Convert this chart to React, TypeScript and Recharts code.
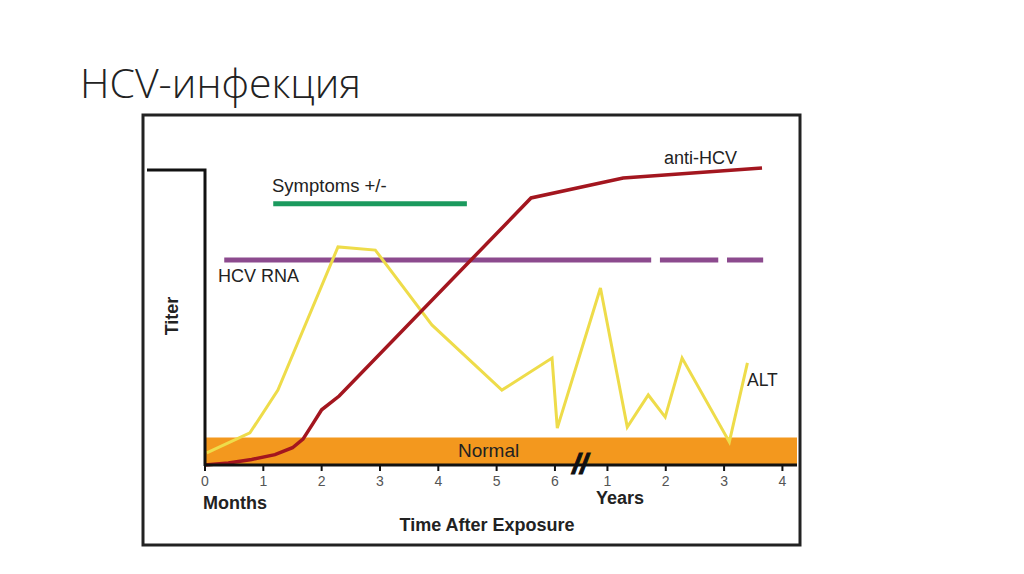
import React from 'react'
import { LineChart, Line, XAxis, YAxis, ReferenceArea } from 'recharts'

// x is in "axis units": 0..6 months, then years 1..4 after the break
const xTicks = [0, 1, 2, 3, 4, 5, 6, 6.9, 7.9, 8.9, 9.9]
const xTickLabels = ['0', '1', '2', '3', '4', '5', '6', '1', '2', '3', '4']

const antiHcv = [
  { x: 0, v: 0 },
  { x: 0.4, v: 0.6 },
  { x: 0.8, v: 1.6 },
  { x: 1.2, v: 3 },
  { x: 1.5, v: 5 },
  { x: 1.68, v: 7.5 },
  { x: 1.85, v: 12 },
  { x: 2.0, v: 16 },
  { x: 2.3, v: 20 },
  { x: 5.59, v: 77.4 },
  { x: 7.17, v: 83.2 },
  { x: 9.55, v: 86.1 },
]

const alt = [
  { x: 0.03, v: 3.5 },
  { x: 0.77, v: 9.3 },
  { x: 1.25, v: 21.7 },
  { x: 2.28, v: 63.2 },
  { x: 2.92, v: 62.3 },
  { x: 3.89, v: 40.6 },
  { x: 5.09, v: 21.7 },
  { x: 5.95, v: 31.0 },
  { x: 6.04, v: 10.7 },
  { x: 6.78, v: 51.3 },
  { x: 7.24, v: 11.0 },
  { x: 7.6, v: 20.3 },
  { x: 7.89, v: 13.9 },
  { x: 8.18, v: 31.0 },
  { x: 8.99, v: 6.7 },
  { x: 9.3, v: 29.6 },
]

// null entries break the line into dashes
const hcvRna = [
  { x: 0.33, v: 59.4 },
  { x: 7.65, v: 59.4 },
  { x: 7.72, v: null },
  { x: 7.8, v: 59.4 },
  { x: 8.8, v: 59.4 },
  { x: 8.87, v: null },
  { x: 8.95, v: 59.4 },
  { x: 9.57, v: 59.4 },
]

const symptoms = [
  { x: 1.17, v: 75.7 },
  { x: 4.49, v: 75.7 },
]

const normalRange = [0, 8]

const sans = '"Liberation Sans", Arial, sans-serif'

export default function App() {
  return (
    <div style={{ position: 'absolute', left: 0, top: 0, width: 1024, height: 574, background: '#fff', overflow: 'hidden' }}>
      <LineChart
        width={1024}
        height={574}
        margin={{ top: 120, right: 227, left: 205, bottom: 79 }}
        style={{ position: 'absolute', left: 0, top: 0 }}
      >
        <XAxis
          type="number"
          dataKey="x"
          domain={[0, 10.15]}
          ticks={xTicks}
          tickFormatter={(t: number) => xTickLabels[xTicks.indexOf(t)] ?? ''}
          interval={0}
          height={30}
          axisLine={{ stroke: '#111', strokeWidth: 3 }}
          tickLine={{ stroke: '#111', strokeWidth: 2 }}
          tickSize={6}
          tickMargin={5}
          tick={{ fontSize: 14, fill: '#555', fontFamily: sans }}
          allowDuplicatedCategory={false}
        />
        <YAxis type="number" domain={[0, 100]} hide />
        <ReferenceArea x1={0} x2={10.15} y1={normalRange[0]} y2={normalRange[1]} fill="#F3981E" fillOpacity={1} stroke="none" />
        <Line data={symptoms} dataKey="v" stroke="#1B9A5E" strokeWidth={5} dot={false} isAnimationActive={false} />
        <Line data={hcvRna} dataKey="v" stroke="#8C4A8E" strokeWidth={5} dot={false} isAnimationActive={false} />
        <Line data={alt} dataKey="v" stroke="#EEDC4A" strokeWidth={3} dot={false} isAnimationActive={false} />
        <Line data={antiHcv} dataKey="v" stroke="#A3161F" strokeWidth={3.5} dot={false} isAnimationActive={false} />
      </LineChart>
      <svg width={1024} height={574} style={{ position: 'absolute', left: 0, top: 0, pointerEvents: 'none' }}>
        <text x={80} y={98} fontFamily='"Open Sans", sans-serif' fontWeight={300} fontSize={41} fill="#222">
          HCV-инфекция
        </text>
        <rect x={143} y={115} width={657} height={430} fill="none" stroke="#222" strokeWidth={3} />
        <polyline points="147,170 205,170 205,466" fill="none" stroke="#111" strokeWidth={3} />
        <g fontFamily={sans} fill="#222">
          <text x={272} y={192} fontSize={18.5}>Symptoms +/-</text>
          <text x={218} y={282} fontSize={18}>HCV RNA</text>
          <text x={664} y={164} fontSize={18}>anti-HCV</text>
          <text x={747} y={386} fontSize={17.5}>ALT</text>
          <text x={458} y={457} fontSize={19}>Normal</text>
        </g>
        <g fontFamily={sans} fontWeight="bold" fill="#222" fontSize={18}>
          <text x={203} y={509}>Months</text>
          <text x={596} y={504}>Years</text>
          <text x={487} y={531} textAnchor="middle">Time After Exposure</text>
          <text x={178} y={316} textAnchor="middle" transform="rotate(-90 178 316)">Titer</text>
          <text x={580} y={473} textAnchor="middle" fontStyle="italic" fontSize={28} fill="#111" stroke="#111" strokeWidth={1}>//</text>
        </g>
      </svg>
    </div>
  )
}
